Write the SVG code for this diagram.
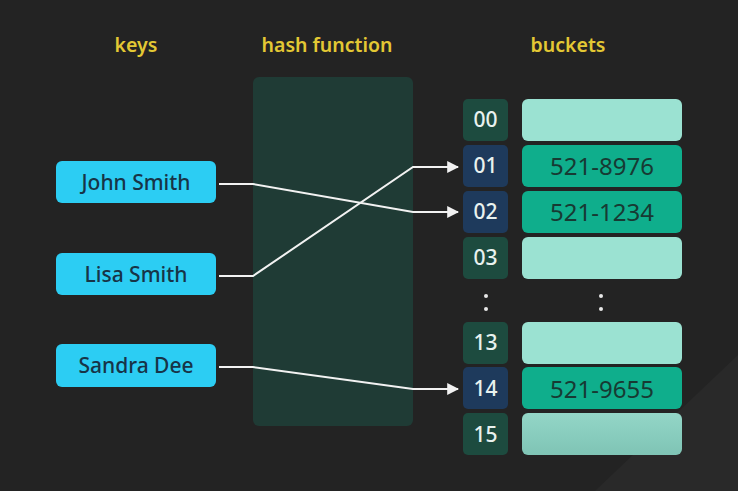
<svg xmlns="http://www.w3.org/2000/svg" width="738" height="491" viewBox="0 0 738 491">
<defs>
<style>
.hdr{font-family:"Noto Sans","Open Sans",sans-serif;font-size:19.5px;font-weight:600;fill:#e3c834;text-anchor:middle}
.key rect{fill:#2ccdf3}
.key text{font-family:"Noto Sans","Open Sans",sans-serif;font-size:21px;font-weight:500;fill:#173447;text-anchor:middle}
.idx text{font-family:"Noto Sans","Open Sans",sans-serif;font-size:21px;font-weight:500;fill:#e9f2ef;text-anchor:middle}
.ig{fill:#1d4b3f}
.ib{fill:#1e3a5c}
.bl{fill:#9be2d2}
.bd{fill:#0fae8c}
.bk text{font-family:"Noto Sans","Open Sans",sans-serif;font-size:24px;fill:#173a33;text-anchor:middle}
.conn path{fill:none;stroke:#f2f2f2;stroke-width:2;marker-end:url(#arr)}
.dot{fill:#e8e8e8}
</style>
<marker id="arr" viewBox="0 0 10 10" refX="9" refY="5" markerWidth="6" markerHeight="6" orient="auto" markerUnits="strokeWidth">
<path d="M0,0 L10,5 L0,10 z" fill="#f2f2f2"/>
</marker>
<linearGradient id="g15" x1="0" y1="0" x2="0" y2="1">
<stop offset="0" stop-color="#93d6c7"/>
<stop offset="1" stop-color="#7fc4b5"/>
</linearGradient>
</defs>
<rect width="738" height="491" fill="#232323"/>
<polygon points="738,355 738,491 595,491" fill="#292929"/>
<text class="hdr" x="136" y="52">keys</text>
<text class="hdr" x="327" y="52">hash function</text>
<text class="hdr" x="568" y="52">buckets</text>
<g id="hash"><rect x="253" y="77" width="160" height="349" rx="6" fill="#1f3b35"/></g>
<g id="john" class="key"><rect x="56" y="161" width="160" height="42" rx="6"/><text x="136" y="190">John Smith</text></g>
<g id="lisa" class="key"><rect x="56" y="253" width="160" height="42" rx="6"/><text x="136" y="282">Lisa Smith</text></g>
<g id="sandra" class="key"><rect x="56" y="344" width="160" height="43" rx="6"/><text x="136" y="373">Sandra Dee</text></g>
<g id="i00" class="idx"><rect class="ig" x="463" y="99" width="45" height="42" rx="5"/><text x="485.5" y="127">00</text></g>
<g id="i01" class="idx"><rect class="ib" x="463" y="145" width="45" height="42" rx="5"/><text x="485.5" y="173">01</text></g>
<g id="i02" class="idx"><rect class="ib" x="463" y="191" width="45" height="42" rx="5"/><text x="485.5" y="219">02</text></g>
<g id="i03" class="idx"><rect class="ig" x="463" y="237" width="45" height="42" rx="5"/><text x="485.5" y="265">03</text></g>
<g id="i13" class="idx"><rect class="ig" x="463" y="322" width="45" height="42" rx="5"/><text x="485.5" y="350">13</text></g>
<g id="i14" class="idx"><rect class="ib" x="463" y="367" width="45" height="42" rx="5"/><text x="485.5" y="396">14</text></g>
<g id="i15" class="idx"><rect class="ig" x="463" y="413" width="45" height="42" rx="5"/><text x="485.5" y="442">15</text></g>
<g id="b00" class="bk"><rect class="bl" x="522" y="99" width="160" height="42" rx="6"/></g>
<g id="b01" class="bk"><rect class="bd" x="522" y="145" width="160" height="42" rx="6"/><text x="602" y="175">521-8976</text></g>
<g id="b02" class="bk"><rect class="bd" x="522" y="191" width="160" height="42" rx="6"/><text x="602" y="221">521-1234</text></g>
<g id="b03" class="bk"><rect class="bl" x="522" y="237" width="160" height="42" rx="6"/></g>
<g id="b13" class="bk"><rect class="bl" x="522" y="322" width="160" height="42" rx="6"/></g>
<g id="b14" class="bk"><rect class="bd" x="522" y="367" width="160" height="42" rx="6"/><text x="602" y="398">521-9655</text></g>
<g id="b15" class="bk"><rect fill="url(#g15)" x="522" y="413" width="160" height="42" rx="6"/></g>
<g id="dots">
<circle class="dot" cx="486" cy="296" r="2"/><circle class="dot" cx="486" cy="309" r="2"/>
<circle class="dot" cx="601" cy="296" r="2"/><circle class="dot" cx="601" cy="309" r="2"/>
</g>
<g id="connectors" class="conn">
<path d="M219,184 L253,184 L413,212 L458,212"/>
<path d="M219,276 L253,276 L413,167 L458,167"/>
<path d="M219,367 L253,367 L413,389 L458,389"/>
</g>
</svg>
